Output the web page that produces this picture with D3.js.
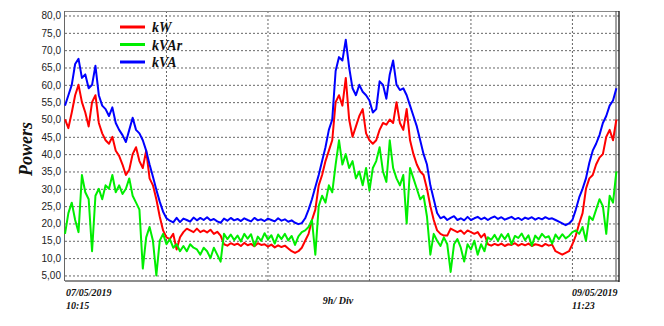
<!DOCTYPE html>
<html>
<head>
<meta charset="utf-8">
<script src="https://cdn.jsdelivr.net/npm/d3@7"></script>
<style>
  body { margin: 0; background: #fff; }
  svg { display: block; }
</style>
</head>
<body>
<svg id="chart" width="664" height="326"></svg>
<script>
// sample spacing in hours (one reading every 18 min)
var stepHours = 0.3;
var totalHours = 49.13; // 07/05 10:15 -> 09/05 11:23

var kVA = [54, 57, 60, 66, 67.5, 62, 63, 59, 60, 65.5,
  57, 54, 53, 51, 53.5, 49, 47, 45.5, 43.5, 47,
  50.5, 47, 46, 44, 41, 37, 33.5, 29.7, 26.3, 23.4,
  21.5, 20.8, 20.3, 21.6, 20.4, 21.4, 21, 20.5, 21.7, 20.9,
  21.6, 21, 21.8, 20.9, 21.3, 20.6, 20.2, 21.4, 20.8, 21.6,
  20.9, 21.3, 20.7, 21.5, 21, 20.6, 21.6, 20.9, 21.2, 20.7,
  21.4, 21, 20.6, 21.5, 20.8, 21.2, 20.5, 20.9, 20.2, 19.8,
  20.1, 21.5, 24, 27, 30.5, 34, 38, 42, 47, 50,
  64, 68, 67, 73, 65, 59, 57, 60, 58, 57,
  55.5, 52, 53, 61, 60, 56, 63, 67, 60, 58.5,
  59, 57, 54, 51, 48, 44, 40, 37, 31, 27,
  23, 21.5, 22, 21, 21.6, 22.1, 21, 21.5, 20.9, 21.9,
  21, 21.5, 21.9, 21.2, 21.7, 21, 21.6, 22, 21.3, 21.8,
  21.1, 21.5, 21.9, 21.2, 21.6, 21, 21.7, 21.3, 21.8, 21.1,
  21.6, 21.2, 21.8, 21.3, 21.5, 21, 20.5, 20, 19.5, 20,
  21, 24, 27.5, 30, 33, 37.5, 41, 43, 45.5, 49,
  51, 54, 55.5, 59];

var kW = [50, 47.5, 52, 57, 60, 55, 52, 48, 55, 57,
  49, 46, 44, 43, 45, 41, 39.5, 37, 34, 35.5,
  40, 42, 38, 36, 41, 33, 31, 27, 22, 18,
  16, 15.5, 17, 12.5, 16, 17.5, 18.5, 18, 17.5, 18.5,
  17.5, 18, 17.4, 18.2, 17, 17.6, 16.5, 14, 13.6, 14.3,
  13.8, 14.2, 13.5, 14.4, 13.7, 14.1, 13.4, 14.3, 13.8, 14,
  13.3, 13.9, 13.1, 13.7, 13.2, 13.6, 12.8, 12, 11.5, 12,
  13, 15, 17, 21, 24, 31, 34, 38, 41, 44,
  55, 57, 54, 62, 50, 45, 48, 51, 53, 46,
  44, 43, 44, 47, 49, 48.5, 50, 49, 55, 49,
  47, 53, 44, 40, 37, 35, 34, 30, 25, 21,
  18, 17, 16.5, 16.5, 18.5, 18, 17.5, 18, 17, 18,
  17.5, 17, 17.5, 16, 17, 14, 13.6, 14.1, 13.7, 14.2,
  13.5, 14, 13.8, 14.3, 13.6, 14.1, 13.7, 14.2, 13.5, 14,
  13.8, 13.4, 14.1, 13.6, 13.9, 12, 11.5, 11, 11.5, 12,
  14, 16.5, 20, 23, 30, 33, 34, 37, 39, 40,
  45, 47, 44, 50];

var kVAr = [17, 23, 26, 21, 17.5, 34, 29, 27, 12, 28,
  30, 27, 31, 30, 34, 29, 31, 28.5, 30, 33,
  28, 26, 24, 7, 16, 19, 15, 5, 15, 17,
  14, 15.5, 13, 14, 12, 13.5, 12, 14, 13, 12.5,
  11, 13, 12, 10, 13, 11, 9, 17, 15.5, 16.8,
  15.2, 16.5, 14.8, 17, 15.6, 16.9, 13.5, 16.2, 15, 17.2,
  15.4, 16.6, 14.2, 16.8, 15.5, 17, 15.1, 16.4, 13.8, 16.3,
  17.5, 18, 19, 21, 11, 25, 28, 26, 31, 29,
  37, 44, 37, 40, 36, 38, 33, 35, 31, 36,
  29.5, 36, 38, 42, 35, 32, 44, 36, 33, 31,
  34, 20, 36, 33, 30, 27, 28, 22, 11, 17,
  15, 13.5, 16, 14, 6, 14, 15.5, 13, 9, 14,
  12.5, 15, 11, 14, 12, 16, 15.3, 16.7, 15, 16.9,
  15.5, 17, 14, 16.4, 15.8, 17.1, 15.2, 16.6, 13.6, 16.5,
  15.4, 17, 15.9, 16.3, 14.2, 16.8, 15.5, 16.9, 15.7, 16.4,
  17.5, 18, 17, 19, 15, 22, 21, 24, 27, 25,
  17, 28, 26, 35];

var yTicks = [5, 10, 15, 20, 25, 30, 35, 40, 45, 50, 55, 60, 65, 70, 75, 80];
var yTickLabels = ["5,00", "10,0", "15,0", "20,0", "25,0", "30,0", "35,0", "40,0",
  "45,0", "50,0", "55,0", "60,0", "65,0", "70,0", "75,0", "80,0"];
var xDivs = [9, 18, 27, 36, 45];

var seriesNames = ["kW", "kVAr", "kVA"];
var seriesColors = ["#ff0000", "#00ee00", "#0000ff"];
var seriesData = [kW, kVAr, kVA];

(function() {
  var svg = d3.select("#chart");
  // plot box (window.top is reserved, so keep these local)
  var pLeft = 65, pRight = 619, pTop = 11, pBottom = 281;

  var x = d3.scaleLinear().domain([0, totalHours]).range([pLeft, pRight]);
  var y = d3.scaleLinear().domain([3.4, 81.3]).range([pBottom, pTop]);

  // horizontal grid + labels
  var yAxis = svg.append("g")
    .attr("transform", "translate(" + pLeft + ",0)")
    .call(d3.axisLeft(y).tickValues(yTicks)
      .tickSize(-(pRight - pLeft))
      .tickPadding(4)
      .tickFormat(function(d, i) { return yTickLabels[i]; }));
  yAxis.select(".domain").remove();
  yAxis.selectAll("line")
    .attr("stroke", "#666")
    .attr("stroke-dasharray", "2,2");
  yAxis.selectAll("text")
    .attr("font-family", "Liberation Sans, Arial, sans-serif")
    .attr("font-size", 10)
    .attr("fill", "#222");

  // vertical grid (9h per division)
  svg.append("g").selectAll("line")
    .data(xDivs)
    .enter().append("line")
    .attr("x1", function(d) { return x(d); })
    .attr("x2", function(d) { return x(d); })
    .attr("y1", pTop)
    .attr("y2", pBottom + 2)
    .attr("stroke", "#666")
    .attr("stroke-dasharray", "2,2");

  // frame
  svg.append("line").attr("x1", pLeft).attr("x2", pRight).attr("y1", pTop + 0.5).attr("y2", pTop + 0.5)
    .attr("stroke", "#888");
  svg.append("line").attr("x1", pLeft).attr("x2", pRight).attr("y1", pBottom).attr("y2", pBottom)
    .attr("stroke", "#666").attr("stroke-width", 1.5);
  svg.append("line").attr("x1", pLeft - 0.5).attr("x2", pLeft - 0.5).attr("y1", pTop).attr("y2", pBottom)
    .attr("stroke", "#666");
  svg.append("line").attr("x1", pRight - 3).attr("x2", pRight - 3).attr("y1", pTop).attr("y2", pBottom)
    .attr("stroke", "#444");
  svg.append("line").attr("x1", pRight).attr("x2", pRight).attr("y1", pTop).attr("y2", pBottom + 1)
    .attr("stroke", "#111").attr("stroke-width", 1.3);

  // series
  var line = d3.line()
    .x(function(d, i) { return x(i * stepHours); })
    .y(function(d) { return y(d); });

  seriesData.forEach(function(s, k) {
    svg.append("path")
      .datum(s)
      .attr("fill", "none")
      .attr("stroke", seriesColors[k])
      .attr("stroke-width", 2)
      .attr("stroke-linejoin", "round")
      .attr("d", line);
  });

  // legend
  var serif = "Liberation Serif, Times New Roman, serif";
  var legend = svg.append("g").selectAll("g")
    .data(seriesNames)
    .enter().append("g")
    .attr("transform", function(d, i) { return "translate(120," + (27 + i * 17.5) + ")"; });
  legend.append("line")
    .attr("x1", 0).attr("x2", 25)
    .attr("stroke", function(d, i) { return seriesColors[i]; })
    .attr("stroke-width", 3);
  legend.append("text")
    .attr("x", 32).attr("y", 5)
    .attr("font-family", serif)
    .attr("font-size", 14)
    .attr("font-weight", "bold")
    .attr("font-style", "italic")
    .attr("fill", "#111")
    .text(function(d) { return d; });

  // axis titles
  svg.append("text")
    .attr("transform", "translate(32,149) rotate(-90)")
    .attr("text-anchor", "middle")
    .attr("font-family", serif)
    .attr("font-size", 18)
    .attr("font-weight", "bold")
    .attr("font-style", "italic")
    .attr("fill", "#111")
    .text("Powers");

  var xLabels = [
    { x: 66, lines: ["07/05/2019", "10:15"] },
    { x: 572, lines: ["09/05/2019", "11:23"] }
  ];
  xLabels.forEach(function(l) {
    l.lines.forEach(function(t, i) {
      svg.append("text")
        .attr("x", l.x).attr("y", 296 + i * 12.5)
        .attr("font-family", serif)
        .attr("font-size", 10)
        .attr("font-weight", "bold")
        .attr("font-style", "italic")
        .attr("fill", "#111")
        .text(t);
    });
  });

  svg.append("text")
    .attr("x", 338).attr("y", 304)
    .attr("text-anchor", "middle")
    .attr("font-family", serif)
    .attr("font-size", 10)
    .attr("font-weight", "bold")
    .attr("font-style", "italic")
    .attr("fill", "#111")
    .text("9h/ Div");
})();
</script>
</body>
</html>
